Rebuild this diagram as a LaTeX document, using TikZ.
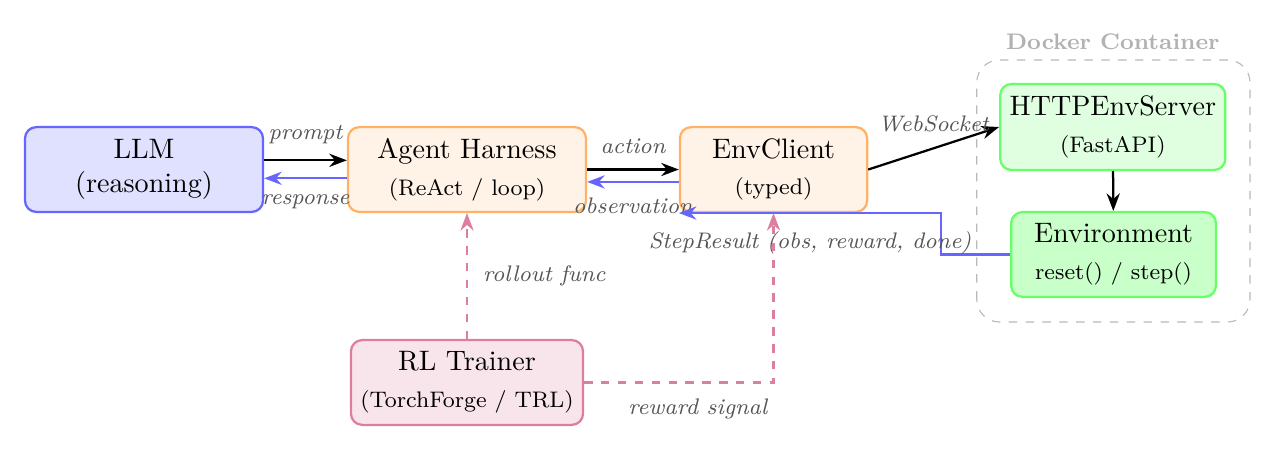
\documentclass[tikz,border=0pt]{standalone}
\usepackage{amsmath, amssymb}
\usepackage{xcolor}
\usetikzlibrary{arrows.meta, calc, positioning}

\definecolor{llmblue}{RGB}{102,102,255}
\definecolor{agentorange}{RGB}{255,178,102}
\definecolor{envgreen}{RGB}{102,255,102}
\definecolor{rlpink}{RGB}{221,126,160}
\definecolor{labelgray}{RGB}{85,85,85}

\tikzset{
	box/.style={draw, rounded corners=4pt, line width=0.8pt, align=center, minimum height=1.06cm},
	lbl/.style={font=\footnotesize\itshape, text=labelgray},
	flow/.style={-{Stealth[length=2.2mm]}, thick},
	back/.style={flow, draw=llmblue},
	rlflow/.style={flow, dashed, draw=rlpink},
}

\begin{document}
\begin{tikzpicture}
			
			\useasboundingbox (0,0) rectangle (15.925,5.625);
			
			% container
			\draw[gray!55, dashed, rounded corners=8pt] (12.21,1.6) rectangle (15.625,4.875);
			\node[font=\footnotesize\bfseries, text=gray!60] (docker) at (13.91,5.1) {Docker Container};
			
			% components
			\node[box, draw=llmblue, fill=llmblue!20, minimum width=2.975cm] (llm) at (1.8,3.506) {LLM\\(reasoning)};
			\node[box, draw=agentorange, fill=agentorange!15, minimum width=2.975cm] (agent) at (5.8375,3.506) {Agent Harness\\[1pt]{\footnotesize (ReAct / loop)}};
			\node[box, draw=agentorange, fill=agentorange!15, minimum width=2.34cm] (client) at (9.669,3.506) {EnvClient\\[1pt]{\footnotesize (typed)}};
			\node[box, draw=envgreen, fill=envgreen!20, minimum width=2.8cm, minimum height=1.075cm] (server) at (13.91,4.0375) {HTTPEnvServer\\[1pt]{\footnotesize (FastAPI)}};
			\node[box, draw=envgreen, fill=envgreen!35, minimum width=2.56cm] (env) at (13.92,2.444) {Environment\\[1pt]{\footnotesize reset() / step()}};
			\node[box, draw=rlpink, fill=rlpink!20, minimum width=2.9cm] (trainer) at (5.8375,0.844) {RL Trainer\\[1pt]{\footnotesize (TorchForge / TRL)}};
			
			% messages
			\draw[flow] ([yshift=1.15mm]llm.east) -- ([yshift=1.15mm]agent.west) node[lbl, midway, above=2pt] {prompt};
			\draw[back] ([yshift=-1.1mm]agent.west) -- ([yshift=-1.1mm]llm.east) node[lbl, midway, below=2pt] {response};
			\draw[flow] (agent.east) -- (client.west) node[lbl, midway, above=2pt] {action};
			\draw[back] ([yshift=-1.55mm]client.west) -- ([yshift=-1.55mm]agent.east) node[lbl, midway, below=2pt] {observation};
			\draw[flow] (client.east) -- (server.west) node[lbl, midway, above=2pt] {WebSocket};
			\draw[flow] (server) -- (env);
			\draw[back] (env.west) -- ++(-0.86,0) |- (client.south west) node[lbl, pos=0.75, below=3pt] {StepResult (obs, reward, done)};
			
			% training
			\draw[rlflow] (trainer.north) -- (agent.south) node[lbl, midway, right=2pt] {rollout func};
			\draw[rlflow] (trainer.east) -| (client.south) node[lbl, pos=0.3, below=2pt] {reward signal};
			
		\end{tikzpicture}
\end{document}
